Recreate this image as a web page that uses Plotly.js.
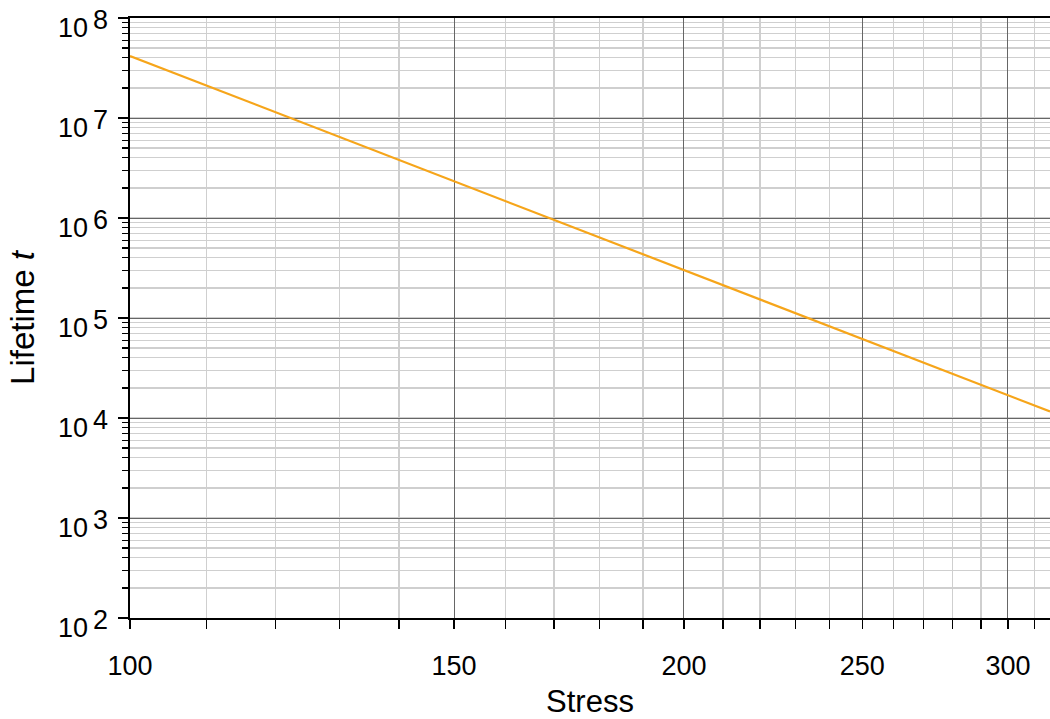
<!DOCTYPE html>
<html>
<head>
<meta charset="utf-8">
<script src="https://cdn.plot.ly/plotly-3.0.1.min.js"></script>
<style>html,body{margin:0;padding:0;background:#fff;} #chart{width:1050px;height:719px;}</style>
</head>
<body>
<div id="chart"></div>
<script>
// Data
const stress = [100, 150, 200, 250, 300, 316.2];
const lifetime = [4.17e7, 2.33e6, 3.02e5, 6.18e4, 1.69e4, 1.16e4];

const xMajorTicks = [100, 150, 200, 250, 300];
const xMajorLabels = ['100', '150', '200', '250', '300'];
const xMinorTicks = [110, 120, 130, 140, 160, 170, 180, 190, 210, 220, 230, 240, 260, 270, 280, 290, 310];
const yMajorTicks = [1e2, 1e3, 1e4, 1e5, 1e6, 1e7, 1e8];
const yBaseLabels = ['10', '10', '10', '10', '10', '10', '10'];
const yExponents = ['2', '3', '4', '5', '6', '7', '8'];

const FONT = 'Arial, "Liberation Sans", sans-serif';
const TICK_SIZE = 27;

const trace = {
  x: stress, y: lifetime, type: 'scatter', mode: 'lines',
  line: {color: '#F6A51A', width: 2.2}, hoverinfo: 'skip', showlegend: false
};
// invisible companion so the exponent axis is drawn
const ghost = {
  x: stress, y: lifetime, yaxis: 'y2', type: 'scatter', mode: 'lines',
  line: {color: 'rgba(0,0,0,0)', width: 0}, opacity: 0, hoverinfo: 'skip', showlegend: false
};

const layout = {
  width: 1050, height: 719,
  margin: {l: 130, r: 0, t: 18, b: 101},
  paper_bgcolor: '#fff', plot_bgcolor: '#fff',
  font: {family: FONT, color: '#000', size: TICK_SIZE},
  xaxis: {
    type: 'log', range: [2, Math.log10(316.2)],
    tickmode: 'array', tickvals: xMajorTicks, ticktext: xMajorLabels,
    ticks: 'outside', ticklen: 9, tickwidth: 1.3, tickcolor: '#000',
    showline: true, linecolor: '#000', linewidth: 1.6, mirror: true,
    showgrid: true, gridcolor: '#666', gridwidth: 1,
    zeroline: false,
    tickfont: {size: TICK_SIZE, family: FONT},
    ticklabelstandoff: 14,
    minor: {tickmode: 'array', tickvals: xMinorTicks, ticks: 'outside', ticklen: 9, tickwidth: 1.3, tickcolor: '#000', showgrid: true, gridcolor: '#cfcfcf', gridwidth: 1.3},
    title: {text: 'Stress', font: {size: 31, family: FONT}, standoff: 16},
    automargin: false, layer: 'above traces'
  },
  yaxis: {
    type: 'log', range: [2, 8],
    tickmode: 'array', tickvals: yMajorTicks, ticktext: yBaseLabels,
    ticks: 'outside', ticklen: 10, tickwidth: 1.3, tickcolor: '#000',
    showline: true, linecolor: '#000', linewidth: 1.6,
    showgrid: true, gridcolor: '#666', gridwidth: 1,
    zeroline: false,
    tickfont: {size: TICK_SIZE, family: FONT},
    ticklabelstandoff: 25, ticklabelshift: 10, ticklabeloverflow: 'allow',
    minor: {dtick: 'D1', ticks: 'outside', ticklen: 6, tickwidth: 1.3, tickcolor: '#000', showgrid: true, gridcolor: '#cfcfcf', gridwidth: 1.3},
    title: {text: 'Lifetime <i>t</i>', font: {size: 33, family: FONT}, standoff: 13},
    automargin: false, layer: 'above traces'
  },
  yaxis2: {
    type: 'log', range: [2, 8], overlaying: 'y', side: 'left', anchor: 'x',
    tickmode: 'array', tickvals: yMajorTicks, ticktext: yExponents,
    ticks: '', showline: false, showgrid: false, zeroline: false,
    tickfont: {size: TICK_SIZE, family: FONT},
    ticklabelstandoff: 21, ticklabelshift: 2, ticklabeloverflow: 'allow',
    automargin: false
  }
};

Plotly.newPlot('chart', [trace, ghost], layout, {displayModeBar: false, staticPlot: true});
</script>
</body>
</html>
